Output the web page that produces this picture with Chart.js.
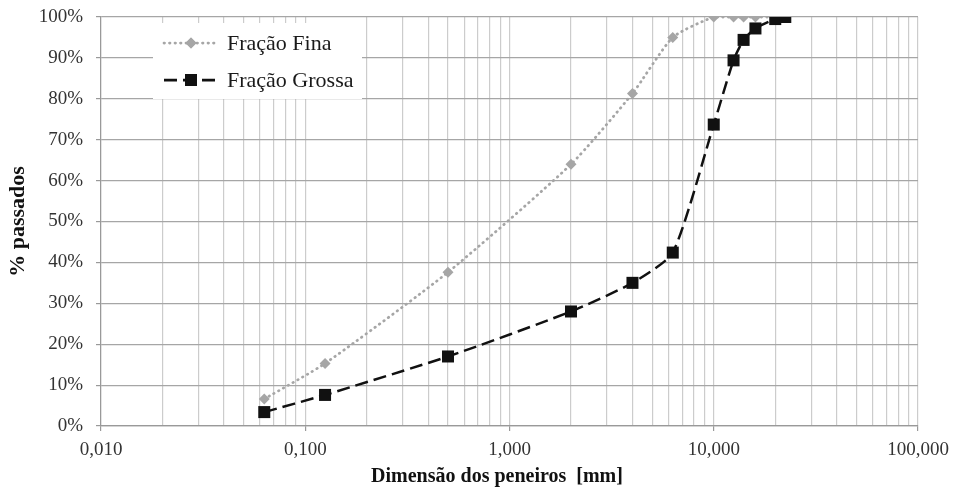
<!DOCTYPE html>
<html>
<head>
<meta charset="utf-8">
<script src="https://cdn.jsdelivr.net/npm/chart.js"></script>
<style>
  html, body { margin: 0; padding: 0; background: #fff; }
  #wrap { width: 953px; height: 496px; }
</style>
</head>
<body>
<div id="wrap"><canvas id="grafico" width="953" height="496"></canvas></div>
<script>
// ─── DADOS ───
var PENEIROS = [0.063, 0.125, 0.5, 2, 4, 6.3, 10, 12.5, 14, 16, 20, 22.4];
var FRACAO_FINA = [6.6, 15.3, 37.6, 64, 81.3, 95, 100, 100, 100, 100, 100, 100];
var FRACAO_GROSSA = [3.4, 7.6, 17, 28, 35, 42.4, 73.7, 89.4, 94.4, 97.2, 99.5, 100];

// ticks do eixo log
var DECADAS = [0.01, 0.1, 1, 10, 100];
var DECADA_LABELS = ['0,010', '0,100', '1,000', '10,000', '100,000'];
var MULTIPLOS = [1, 2, 3, 4, 5, 6, 7, 8, 9];

var COR_FINA = '#a6a6a6';
var COR_GROSSA = '#111111';
var FONTE = '"Liberation Serif", "Times New Roman", serif';

function pontos(ys) {
  return PENEIROS.map(function(x, i) { return { x: x, y: ys[i] }; });
}

var xTicks = [];
DECADAS.forEach(function(d, i) {
  if (i === DECADAS.length - 1) { xTicks.push({ value: d, major: true, label: DECADA_LABELS[i] }); return; }
  MULTIPLOS.forEach(function(m) {
    xTicks.push({ value: d * m, major: m === 1, label: m === 1 ? DECADA_LABELS[i] : '' });
  });
});

// legenda desenhada por cima das grades (caixa branca)
var legendaPlugin = {
  id: 'legendaCaixa',
  beforeDatasetsDraw: function(chart) {
    var ctx = chart.ctx;
    ctx.save();
    ctx.fillStyle = '#fff';
    ctx.fillRect(153, 23, 209, 76);
    var itens = [
      { y: 43, texto: 'Fração Fina', cor: COR_FINA, dash: [0.5, 5], cap: 'round', estilo: 'rectRot', raio: 5.5 },
      { y: 80, texto: 'Fração Grossa', cor: COR_GROSSA, dash: [13, 6], cap: 'butt', estilo: 'rect', raio: 8.5 }
    ];
    itens.forEach(function(it) {
      ctx.beginPath();
      ctx.setLineDash(it.dash);
      ctx.lineCap = it.cap;
      ctx.lineWidth = 2.75;
      ctx.strokeStyle = it.cor;
      ctx.moveTo(164, it.y);
      ctx.lineTo(218, it.y);
      ctx.stroke();
      ctx.setLineDash([]);
      ctx.fillStyle = it.cor;
      Chart.helpers.drawPoint(ctx, { pointStyle: it.estilo, radius: it.raio, borderWidth: 0 }, 191, it.y);
      ctx.fill();
      ctx.fillStyle = '#1a1a1a';
      ctx.font = '22px ' + FONTE;
      ctx.textAlign = 'left';
      ctx.textBaseline = 'middle';
      ctx.fillText(it.texto, 227, it.y + 1);
    });
    ctx.restore();
  }
};

new Chart(document.getElementById('grafico').getContext('2d'), {
  type: 'line',
  data: {
    datasets: [
      {
        label: 'Fração Fina',
        data: pontos(FRACAO_FINA),
        order: 1,
        borderColor: COR_FINA,
        backgroundColor: COR_FINA,
        borderWidth: 2.75,
        borderDash: [0.5, 5],
        borderCapStyle: 'round',
        pointStyle: 'rectRot',
        pointRadius: 5.5,
        pointBorderWidth: 0,
        pointBackgroundColor: COR_FINA,
        tension: 0.2,
        fill: false
      },
      {
        label: 'Fração Grossa',
        data: pontos(FRACAO_GROSSA),
        order: 0,
        borderColor: COR_GROSSA,
        backgroundColor: COR_GROSSA,
        borderWidth: 2.5,
        borderDash: [13, 6],
        pointStyle: 'rect',
        pointRadius: 8.5,
        pointBorderWidth: 0,
        pointBackgroundColor: COR_GROSSA,
        tension: 0.2,
        fill: false
      }
    ]
  },
  options: {
    responsive: false,
    animation: false,
    layout: { padding: { left: 0, right: 35, top: 17, bottom: 0 } },
    plugins: {
      legend: { display: false },
      tooltip: { enabled: false }
    },
    scales: {
      x: {
        type: 'logarithmic',
        min: 0.01,
        max: 100,
        afterBuildTicks: function(scale) {
          scale.ticks = xTicks.map(function(t) { return { value: t.value, major: t.major }; });
        },
        afterFit: function(scale) {
          scale.height = 70;
          scale.paddingLeft = 0;
          scale.paddingRight = 0;
        },
        grid: {
          color: '#cccccc',
          lineWidth: 1.2,
          tickLength: 5,
          tickColor: function(c) { return (c.tick && c.tick.major) ? '#999999' : 'rgba(0,0,0,0)'; }
        },
        border: { color: '#999999', width: 1.2 },
        ticks: {
          autoSkip: false,
          maxRotation: 0,
          padding: 8,
          color: '#333333',
          font: { family: FONTE, size: 19 },
          callback: function(v, i) { return xTicks[i] ? xTicks[i].label : ''; }
        },
        title: {
          display: true,
          text: 'Dimensão dos peneiros  [mm]\u00a0\u00a0\u00a0\u00a0\u00a0',
          color: '#111111',
          font: { family: FONTE, size: 20, weight: 'bold' },
          padding: { top: 4, bottom: 7 }
        }
      },
      y: {
        min: 0,
        max: 100,
        afterFit: function(scale) {
          scale.width = 101;
          scale.paddingTop = 0;
          scale.paddingBottom = 0;
        },
        grid: {
          color: '#a6a6a6',
          lineWidth: 1.2,
          tickLength: 5,
          tickColor: '#999999'
        },
        border: { color: '#999999', width: 1.2 },
        ticks: {
          stepSize: 10,
          padding: 13,
          color: '#333333',
          font: { family: FONTE, size: 19 },
          callback: function(v) { return v + '%'; }
        },
        title: {
          display: true,
          text: '% passados',
          color: '#111111',
          font: { family: FONTE, size: 22, weight: 'bold' },
          padding: { top: 5, bottom: 4 }
        }
      }
    }
  },
  plugins: [legendaPlugin]
});
</script>
</body>
</html>
